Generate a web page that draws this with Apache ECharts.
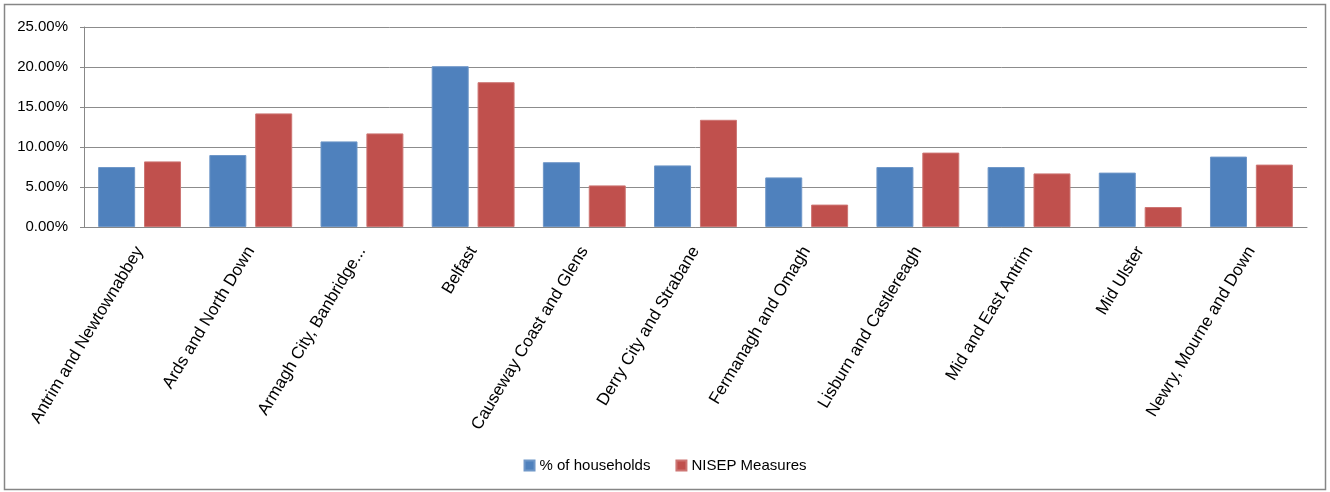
<!DOCTYPE html>
<html>
<head>
<meta charset="utf-8">
<script src="https://cdn.jsdelivr.net/npm/echarts@6/dist/echarts.min.js"></script>
<style>
html,body{margin:0;padding:0;background:#fff;}
#chart{width:1330px;height:492px;}
</style>
</head>
<body>
<div id="chart"></div>
<script>
const categories = [
  'Antrim and Newtownabbey',
  'Ards and North Down',
  'Armagh City, Banbridge...',
  'Belfast',
  'Causeway Coast and Glens',
  'Derry City and Strabane',
  'Fermanagh and Omagh',
  'Lisburn and Castlereagh',
  'Mid and East Antrim',
  'Mid Ulster',
  'Newry, Mourne and Down'
];
const households = [7.5, 9.0, 10.7, 20.1, 8.1, 7.7, 6.2, 7.5, 7.5, 6.8, 8.8];
const nisep = [8.2, 14.2, 11.7, 18.1, 5.2, 13.4, 2.8, 9.3, 6.7, 2.5, 7.8];
const seriesNames = ['% of households', 'NISEP Measures'];

const chart = echarts.init(document.getElementById('chart'), null, {renderer: 'canvas'});
const font = 'Liberation Sans, Arial, sans-serif';
chart.setOption({
  animation: false,
  backgroundColor: '#fff',
  graphic: [{
    type: 'rect',
    shape: {x: 4.5, y: 4.5, width: 1321, height: 485},
    style: {fill: 'none', stroke: '#868686', lineWidth: 1.5},
    silent: true
  }],
  grid: {left: 84, right: 23, top: 27, bottom: 265, containLabel: false},
  legend: {
    data: seriesNames,
    left: 'center',
    top: 453,
    itemWidth: 10,
    itemHeight: 10,
    itemGap: 25,
    icon: 'rect',
    textStyle: {fontFamily: font, fontSize: 15, color: '#000'}
  },
  xAxis: {
    type: 'category',
    data: categories,
    axisLine: {show: true, lineStyle: {color: '#888', width: 1}},
    axisTick: {show: false},
    axisLabel: {
      rotate: 59,
      interval: 0,
      margin: 21,
      fontFamily: font,
      fontSize: 17,
      color: '#000'
    }
  },
  yAxis: {
    type: 'value',
    min: 0,
    max: 25,
    interval: 5,
    axisLine: {show: true, lineStyle: {color: '#888', width: 1}},
    axisTick: {show: true, length: 4, lineStyle: {color: '#888'}},
    splitLine: {show: true, lineStyle: {color: '#8c8c8c', width: 1}},
    axisLabel: {
      formatter: v => v.toFixed(2) + '%',
      fontFamily: font,
      fontSize: 15,
      color: '#000',
      margin: 16
    }
  },
  series: [
    {
      name: seriesNames[0],
      type: 'bar',
      data: households,
      barWidth: 37,
      barGap: '24%',
      itemStyle: {color: '#4F81BD', borderColor: '#6F97C8', borderWidth: 1}
    },
    {
      name: seriesNames[1],
      type: 'bar',
      data: nisep,
      barWidth: 37,
      barGap: '24%',
      itemStyle: {color: '#C0504D', borderColor: '#CD7573', borderWidth: 1}
    }
  ]
});
</script>
</body>
</html>
